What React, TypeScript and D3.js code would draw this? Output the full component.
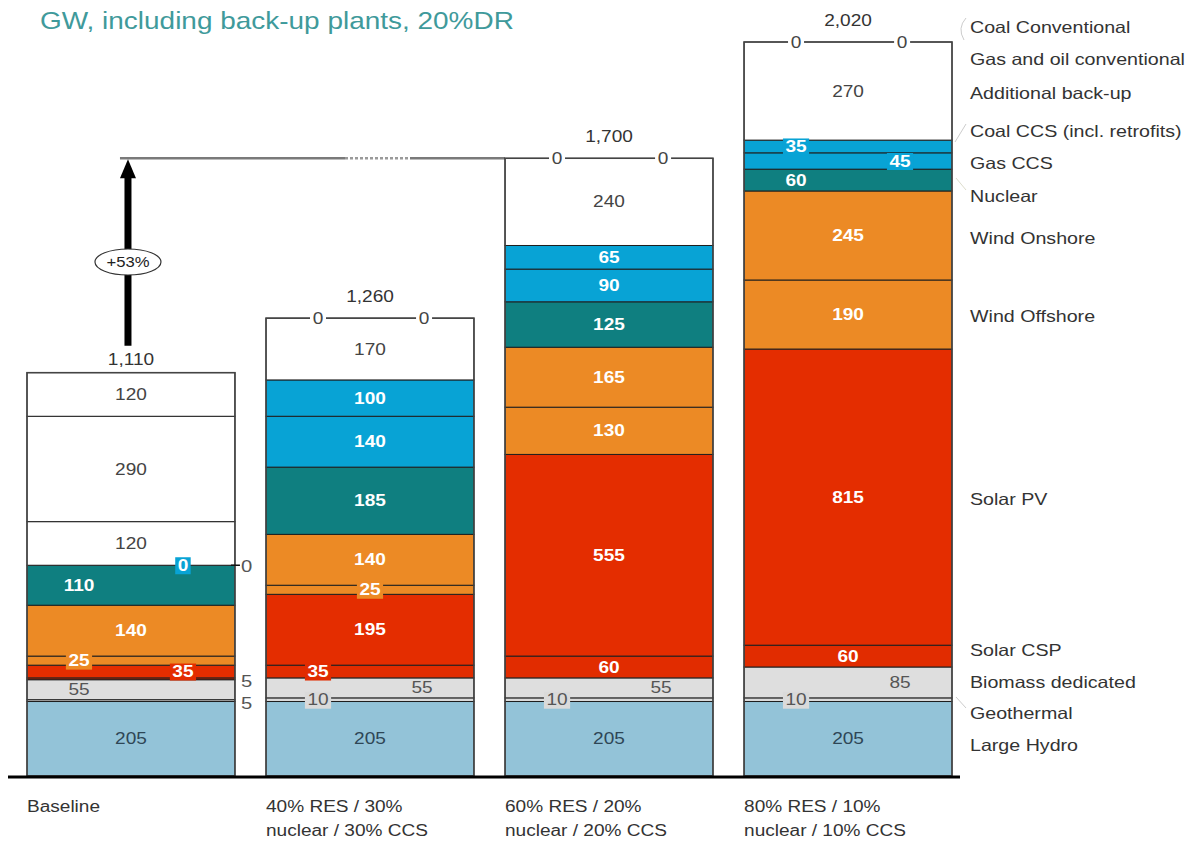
import React from 'react';
import * as d3 from 'd3';

// Scenario categories (line break marked with |)
const SCENARIOS = [
  'Baseline',
  '40% RES / 30%|nuclear / 30% CCS',
  '60% RES / 20%|nuclear / 20% CCS',
  '80% RES / 10%|nuclear / 10% CCS',
];

// Installed capacity, GW (bottom of stack first)
const LARGE_HYDRO = [205, 205, 205, 205];
const GEOTHERMAL = [5, 10, 10, 10];
const BIOMASS = [55, 55, 55, 85];
const SOLAR_CSP = [5, 35, 60, 60];
const SOLAR_PV = [35, 195, 555, 815];
const WIND_OFFSHORE = [25, 25, 130, 190];
const WIND_ONSHORE = [140, 140, 165, 245];
const NUCLEAR = [110, 185, 125, 60];
const GAS_CCS = [0, 140, 90, 45];
const COAL_CCS = [0, 100, 65, 35];
const ADDITIONAL_BACKUP = [120, 170, 240, 270];
const GAS_OIL = [290, 0, 0, 0];
const COAL_CONV = [120, 0, 0, 0];

const LAYERS = [
  { key: 'hydro', name: 'Large Hydro', values: LARGE_HYDRO },
  { key: 'geo', name: 'Geothermal', values: GEOTHERMAL },
  { key: 'biomass', name: 'Biomass dedicated', values: BIOMASS },
  { key: 'csp', name: 'Solar CSP', values: SOLAR_CSP },
  { key: 'pv', name: 'Solar PV', values: SOLAR_PV },
  { key: 'windOff', name: 'Wind Offshore', values: WIND_OFFSHORE },
  { key: 'windOn', name: 'Wind Onshore', values: WIND_ONSHORE },
  { key: 'nuclear', name: 'Nuclear', values: NUCLEAR },
  { key: 'gasCcs', name: 'Gas CCS', values: GAS_CCS },
  { key: 'coalCcs', name: 'Coal CCS (incl. retrofits)', values: COAL_CCS },
  { key: 'backup', name: 'Additional back-up', values: ADDITIONAL_BACKUP },
  { key: 'gasOil', name: 'Gas and oil conventional', values: GAS_OIL },
  { key: 'coal', name: 'Coal Conventional', values: COAL_CONV },
];

const COLORS: Record<string, string> = {
  hydro: '#93c3d8',
  geo: '#dadada',
  biomass: '#dedede',
  csp: '#e12c00',
  pv: '#e42d00',
  windOff: '#ec8a25',
  windOn: '#ec8a25',
  nuclear: '#0f7f80',
  gasCcs: '#08a3d5',
  coalCcs: '#08a3d5',
  backup: '#ffffff',
  gasOil: '#ffffff',
  coal: '#ffffff',
};

const TEXT_COLORS: Record<string, string> = {
  hydro: '#2e4656',
  geo: '#555',
  biomass: '#555',
  backup: '#444',
  gasOil: '#444',
  coal: '#444',
};

// where each segment label goes, per scenario
const LABEL_MODE: Record<string, string[]> = {
  hydro: ['c', 'c', 'c', 'c'],
  geo: ['out', 'boxL', 'boxL', 'boxL'],
  biomass: ['l', 'r', 'r', 'r'],
  csp: ['out', 'boxL', 'c', 'c'],
  pv: ['boxR', 'c', 'c', 'c'],
  windOff: ['boxL', 'boxC', 'c', 'c'],
  windOn: ['c', 'c', 'c', 'c'],
  nuclear: ['l', 'c', 'c', 'l'],
  gasCcs: ['tick', 'c', 'c', 'boxR'],
  coalCcs: ['boxR', 'c', 'c', 'boxL'],
  backup: ['c', 'c', 'c', 'c'],
  gasOil: ['c', 'topR', 'topR', 'topR'],
  coal: ['c', 'topL', 'topL', 'topL'],
};

// legend text rows, top to bottom
const LEGEND_ORDER = ['coal', 'gasOil', 'backup', 'coalCcs', 'gasCcs', 'nuclear', 'windOn', 'windOff', 'pv', 'csp', 'biomass', 'geo', 'hydro'];
const LEGEND_Y = [27, 59, 93, 131, 163, 196, 238, 316, 499, 650, 682, 713, 745];

const TITLE = 'GW, including back-up plants, 20%DR';
const GROWTH_LABEL = '+53%';

const FONT = '"Liberation Sans", Arial, sans-serif';
const W = 1193;
const H = 843;
const SX = 1.19; // the source text is drawn a little wide

// text stretched horizontally around its anchor
const T = ({ x, y, sx = SX, children, ...rest }: any) => (
  <text transform={`translate(${x},${y}) scale(${sx},1)`} {...rest}>{children}</text>
);

export default function App() {
  const keys = LAYERS.map((l) => l.key);
  const rows = SCENARIOS.map((s, i) => {
    const r: any = { scenario: s };
    LAYERS.forEach((l) => (r[l.key] = l.values[i]));
    return r;
  });
  const series = d3.stack<any>().keys(keys)(rows);
  const totals = rows.map((r) => d3.sum(keys, (k) => r[k]));

  const x = d3.scaleBand<string>().domain(SCENARIOS).range([27, 952]).paddingInner(0.13);
  const y = d3.scaleLinear().domain([0, 2020]).range([776, 42]);
  const bw = x.bandwidth();
  const fmt = d3.format(',');

  const segs: React.ReactNode[] = [];
  const labels: React.ReactNode[] = [];

  series.forEach((s) => {
    const key = s.key;
    s.forEach((d, i) => {
      const v = d[1] - d[0];
      const x0 = x(SCENARIOS[i])!;
      const y0 = y(d[1]);
      const y1 = y(d[0]);
      if (v > 0) {
        segs.push(
          <rect key={`${key}-${i}`} x={x0} y={y0} width={bw} height={y1 - y0}
            fill={COLORS[key]} stroke="#1e1e1e" strokeWidth={1} />
        );
      }
      const mode = LABEL_MODE[key][i];
      const cy = (y0 + y1) / 2;
      const txt = String(v);
      const light = !TEXT_COLORS[key];
      const tc = TEXT_COLORS[key] || '#fff';
      const weight = light ? 'bold' : 'normal';
      if (mode === 'c' || mode === 'l' || mode === 'r') {
        const lx = mode === 'c' ? x0 + bw / 2 : mode === 'l' ? x0 + bw * 0.25 : x0 + bw * 0.75;
        labels.push(
          <T key={`l-${key}-${i}`} x={lx} y={cy} dy="0.35em" textAnchor="middle"
            fontSize={16} fontWeight={weight} fill={tc}>{txt}</T>
        );
      } else if (mode.startsWith('box')) {
        const lx = mode === 'boxL' ? x0 + bw * 0.25 : mode === 'boxR' ? x0 + bw * 0.75 : x0 + bw / 2;
        const tw = (txt.length * 9 + 4) * SX;
        labels.push(
          <g key={`l-${key}-${i}`}>
            <rect x={lx - tw / 2} y={cy - 8} width={tw} height={17} fill={COLORS[key]} />
            <T x={lx} y={cy} dy="0.35em" textAnchor="middle" fontSize={16}
              fontWeight={weight} fill={tc}>{txt}</T>
          </g>
        );
      } else if (mode === 'out') {
        labels.push(
          <T key={`l-${key}-${i}`} x={x0 + bw + 6} y={cy + 2} dy="0.35em" fontSize={17} fill="#555">{txt}</T>
        );
      } else if (mode === 'tick') {
        labels.push(
          <g key={`l-${key}-${i}`}>
            <line x1={x0 + bw - 4} x2={x0 + bw + 5} y1={cy} y2={cy} stroke="#111" strokeWidth={1.5} />
            <T x={x0 + bw + 6} y={cy + 1} dy="0.35em" fontSize={17} fill="#555">{txt}</T>
          </g>
        );
      } else if (mode === 'topL' || mode === 'topR') {
        const lx = mode === 'topL' ? x0 + bw * 0.25 : x0 + bw * 0.76;
        labels.push(
          <g key={`l-${key}-${i}`}>
            <rect x={lx - 8} y={y0 - 8} width={16} height={16} fill="#fff" />
            <T x={lx} y={y0} dy="0.35em" textAnchor="middle" fontSize={16} fill="#444">{txt}</T>
          </g>
        );
      }
    });
  });

  const arrowX = x(SCENARIOS[0])! + bw / 2 - 3;
  const topLine = y(totals[2]);
  const x3 = x(SCENARIOS[2])!;

  return (
    <svg width={W} height={H} style={{ position: 'absolute', left: 0, top: 0, background: '#fff' }}
      fontFamily={FONT}>
      <T x={40} y={29} sx={1.165} fontSize={24} fill="#3f9a9b">{TITLE}</T>

      {/* reference line from baseline arrow to scenario 3 */}
      <line x1={arrowX - 8} x2={345} y1={topLine} y2={topLine} stroke="#7a7a7a" strokeWidth={2.5} />
      <line x1={345} x2={410} y1={topLine} y2={topLine} stroke="#9a9a9a" strokeWidth={2.5} strokeDasharray="3,2" />
      <line x1={410} x2={x3} y1={topLine} y2={topLine} stroke="#7a7a7a" strokeWidth={2.5} />

      {segs}
      {SCENARIOS.map((s, i) => (
        <rect key={`o-${i}`} x={x(s)} y={y(totals[i])} width={bw} height={y(0) - y(totals[i])}
          fill="none" stroke="#444" strokeWidth={1.5} />
      ))}
      {labels}

      {/* totals */}
      {SCENARIOS.map((s, i) => (
        <T key={`t-${i}`} x={x(s)! + bw / 2} y={y(totals[i]) - (i === 0 ? 8 : 16)} textAnchor="middle"
          fontSize={16} fill="#333">{fmt(totals[i])}</T>
      ))}

      {/* growth arrow */}
      <line x1={arrowX} x2={arrowX} y1={y(totals[0]) - 27} y2={topLine + 18} stroke="#000" strokeWidth={7} />
      <path d={`M${arrowX},${topLine + 1} L${arrowX - 8},${topLine + 20} L${arrowX + 8},${topLine + 20} Z`} fill="#000" />
      <ellipse cx={arrowX} cy={262} rx={33} ry={13} fill="#fff" stroke="#333" strokeWidth={1.2} />
      <T x={arrowX} y={262} dy="0.35em" textAnchor="middle" fontSize={14} fill="#222">{GROWTH_LABEL}</T>

      {/* axis base */}
      <line x1={8} x2={960} y1={y(0) + 1} y2={y(0) + 1} stroke="#000" strokeWidth={3} />

      {/* category labels */}
      {SCENARIOS.map((s) =>
        s.split('|').map((ln, j) => (
          <T key={`c-${s}-${j}`} x={x(s)} y={812 + j * 24} fontSize={16} fill="#333">{ln}</T>
        ))
      )}

      {/* legend */}
      {LEGEND_ORDER.map((k, i) => (
        <T key={`lg-${k}`} x={970} y={LEGEND_Y[i]} dy="0.35em" fontSize={16.5} fill="#333">
          {LAYERS.find((l) => l.key === k)!.name}
        </T>
      ))}
      <path d="M966,18 Q957,28 964,40" fill="none" stroke="#ccc" strokeWidth={1} />
      <path d="M966,124 L955,142" fill="none" stroke="#ccc" strokeWidth={1} />
      <path d="M956,178 L966,190" fill="none" stroke="#ddc" strokeWidth={1} />
      <path d="M956,697 L966,708" fill="none" stroke="#ccc" strokeWidth={1} />
    </svg>
  );
}
